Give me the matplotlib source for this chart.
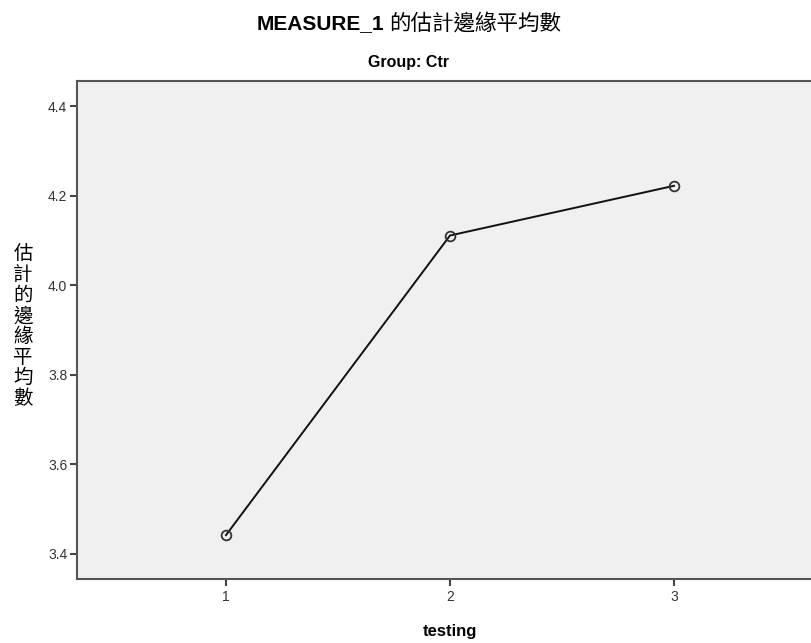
import matplotlib
matplotlib.use('Agg')

import matplotlib.pyplot as plt

# Estimated marginal means of MEASURE_1, group Ctr
testing = [1, 2, 3]
means = [3.442, 4.111, 4.222]
y_ticks = [3.4, 3.6, 3.8, 4.0, 4.2, 4.4]

plt.rcParams['font.family'] = ['Liberation Sans', 'Noto Sans CJK TC', 'DejaVu Sans']

W, H = 812, 643
fig = plt.figure(figsize=(W / 100, H / 100), dpi=100)

# plot area runs a bit past the right edge of the figure
ax = fig.add_axes([77 / W, 1 - 579 / H, (823 - 77) / W, (579 - 81) / H])
ax.set_facecolor('#f0f0f0')

ax.plot(testing, means, color='#111111', linewidth=1.4, zorder=2)
ax.plot(testing, means, linestyle='none', marker='o', markersize=7,
        markerfacecolor='none', markeredgecolor='#333333', markeredgewidth=1.3, zorder=3)

ax.set_xlim(0.335, 3.665)
ax.set_ylim(3.344, 4.456)
ax.set_xticks(testing)
ax.set_xticklabels([str(t) for t in testing])
ax.set_yticks(y_ticks)
ax.set_yticklabels([f'{v:.1f}' for v in y_ticks])

for side in ['left', 'bottom', 'top', 'right']:
    ax.spines[side].set_color('#555555')
    ax.spines[side].set_linewidth(1.5)

ax.tick_params(axis='both', direction='out', length=5, width=1.5, color='#444444',
               labelsize=10, labelcolor='#333333', pad=2)
ax.tick_params(axis='x', labelsize=10, pad=3)

ax.set_xlabel('testing', fontsize=12, fontweight='bold', labelpad=14,
              family=['Liberation Sans Narrow', 'Liberation Sans'])

# stacked vertical y label
fig.text(23 / W, 1 - 326 / H, '\n'.join('估計的邊緣平均數'), ha='center', va='center',
         fontsize=14, linespacing=0.98, family=['Noto Sans CJK TC'])

# title: latin part bold, CJK part regular
fig.text(384 / W, 1 - 24 / H, 'MEASURE_1', ha='right', va='center', fontsize=15,
         fontweight='bold', family=['Liberation Sans Narrow', 'Liberation Sans'])
fig.text(389 / W, 1 - 24 / H, '的估計邊緣平均數', ha='left', va='center', fontsize=15.5,
         family=['Noto Sans CJK TC'])

fig.text(408 / W, 1 - 63 / H, 'Group: Ctr', ha='center', va='center', fontsize=11.5,
         fontweight='bold', family=['Liberation Sans Narrow', 'Liberation Sans'])

fig.savefig('out.png', dpi=100)
plt.close(fig)
